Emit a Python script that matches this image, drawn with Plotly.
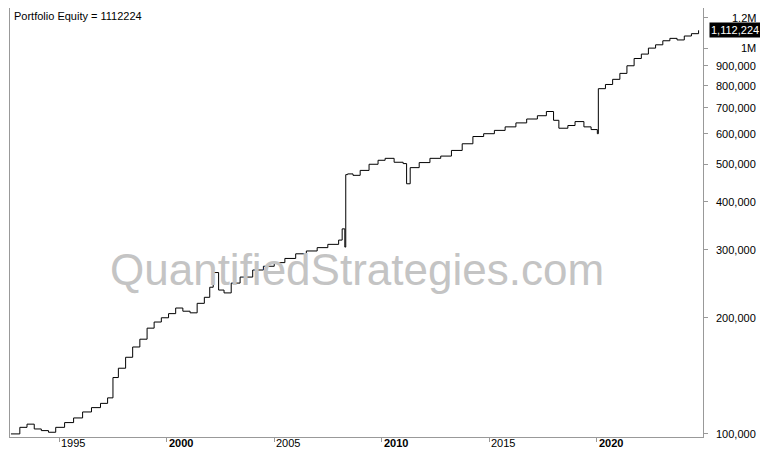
import math
import plotly.graph_objects as go

# equity curve (approximate)
dates = ["1992-10-01", "1993-03-01", "1993-07-01", "1993-11-01", "1994-03-01", "1994-07-01", "1994-11-01",
         "1995-04-01", "1995-09-01", "1996-02-01", "1996-07-01", "1996-12-01", "1997-04-01", "1997-07-01",
         "1997-10-01", "1998-02-01", "1998-06-01", "1998-10-01", "1999-02-01", "1999-06-01", "1999-10-01",
         "2000-02-01", "2000-06-01", "2000-10-01", "2001-02-01", "2001-06-01", "2001-10-01", "2002-01-01",
         "2002-03-01", "2002-06-01", "2002-09-01", "2003-01-01", "2003-06-01", "2004-01-01", "2004-07-01",
         "2005-01-01", "2005-07-01", "2006-01-01", "2006-07-01", "2007-01-01", "2007-07-01", "2008-01-01",
         "2008-03-01", "2008-04-15", "2008-05-01", "2008-06-01", "2008-09-01", "2009-01-01", "2009-06-01",
         "2009-11-01", "2010-03-01", "2010-08-01", "2011-01-01", "2011-03-01", "2011-05-01", "2011-10-01",
         "2012-04-01", "2012-10-01", "2013-04-01", "2013-10-01", "2014-04-01", "2014-10-01", "2015-04-01",
         "2015-10-01", "2016-04-01", "2016-10-01", "2017-04-01", "2017-09-01", "2018-01-01", "2018-04-01",
         "2018-09-01", "2019-01-01", "2019-06-01", "2019-10-01", "2020-01-15", "2020-02-01", "2020-06-01",
         "2020-10-01", "2021-02-01", "2021-06-01", "2021-10-01", "2022-02-01", "2022-06-01", "2022-10-01",
         "2023-02-01", "2023-06-01", "2023-10-01", "2024-02-01", "2024-06-01", "2024-10-01"]
equity = [100000, 104000, 106000, 103000, 102000, 101000, 104000,
          107000, 110000, 114000, 117000, 120000, 124000, 140000,
          148000, 158000, 168000, 176000, 188000, 195000, 200000,
          205000, 212000, 208000, 206000, 218000, 226000, 240000,
          262000, 236000, 232000, 246000, 255000, 266000, 272000,
          278000, 285000, 293000, 298000, 304000, 310000, 318000,
          340000, 305000, 470000, 472000, 468000, 482000, 500000,
          512000, 518000, 506000, 502000, 445000, 490000, 505000,
          518000, 525000, 543000, 565000, 590000, 600000, 612000,
          625000, 640000, 655000, 668000, 685000, 650000, 620000,
          630000, 645000, 625000, 615000, 600000, 785000, 805000,
          830000, 860000, 900000, 940000, 965000, 1000000, 1020000,
          1045000, 1060000, 1050000, 1075000, 1090000, 1112224]

year_ticks = ["1995-01-01", "2000-01-01", "2005-01-01", "2010-01-01", "2015-01-01", "2020-01-01"]
year_labels = ["1995", "<b>2000</b>", "2005", "<b>2010</b>", "2015", "<b>2020</b>"]
y_ticks = [100000, 200000, 300000, 400000, 500000, 600000, 700000, 800000, 900000, 1000000, 1200000]
y_labels = ["100,000", "200,000", "300,000", "400,000", "500,000", "600,000", "700,000",
            "800,000", "900,000", "1M", "1.2M"]

fig = go.Figure(go.Scatter(x=dates, y=equity, mode="lines", line=dict(color="black", width=1, shape="hv"),
                           hoverinfo="skip"))

# page body has an 8px margin, so the figure is sized to fit inside it
fig.update_layout(
    width=752, height=444, margin=dict(l=2, r=57, t=0, b=15, autoexpand=False),
    paper_bgcolor="white", plot_bgcolor="white", showlegend=False,
    font=dict(family="Liberation Sans, Arial", size=11, color="black"),
)
fig.update_xaxes(range=["1992-09-15", "2024-12-15"], tickvals=year_ticks, ticktext=[""] * 6,
                 ticks="outside", ticklen=4, tickcolor="#999", showgrid=False, automargin=False,
                 showline=True, linecolor="#999", mirror=True, zeroline=False)
fig.update_yaxes(type="log", side="right", range=[4.992, 6.104], tickvals=y_ticks, ticktext=[""] * len(y_ticks),
                 ticks="outside", ticklen=4, tickcolor="#999", showgrid=False, automargin=False,
                 showline=True, linecolor="#999", mirror=True)

for d, lab in zip(year_ticks, year_labels):
    fig.add_annotation(x=d, y=0, yref="paper", yanchor="top", xanchor="left", text=lab, showarrow=False,
                       xshift=0, yshift=2, font=dict(size=11))
for v, lab in zip(y_ticks, y_labels):
    fig.add_annotation(x=1, xref="paper", y=math.log10(v), xanchor="right", text=lab, showarrow=False,
                       xshift=55, font=dict(size=11))

fig.add_annotation(x=0, y=1, xref="paper", yref="paper", xanchor="left", yanchor="top",
                   text="Portfolio Equity = 1112224", showarrow=False, font=dict(size=11), xshift=2)
fig.add_annotation(x=0.5, y=0.39, xref="paper", yref="paper", text="QuantifiedStrategies.com",
                   showarrow=False, font=dict(size=44, color="#c4c4c4", family="Liberation Sans, Arial"))
fig.add_annotation(x=1, y=math.log10(equity[-1]), xref="paper", xanchor="left", text="1,112,224",
                   showarrow=False, bgcolor="black", font=dict(color="white", size=11), xshift=6, borderpad=1)

fig.write_html("out.html")
